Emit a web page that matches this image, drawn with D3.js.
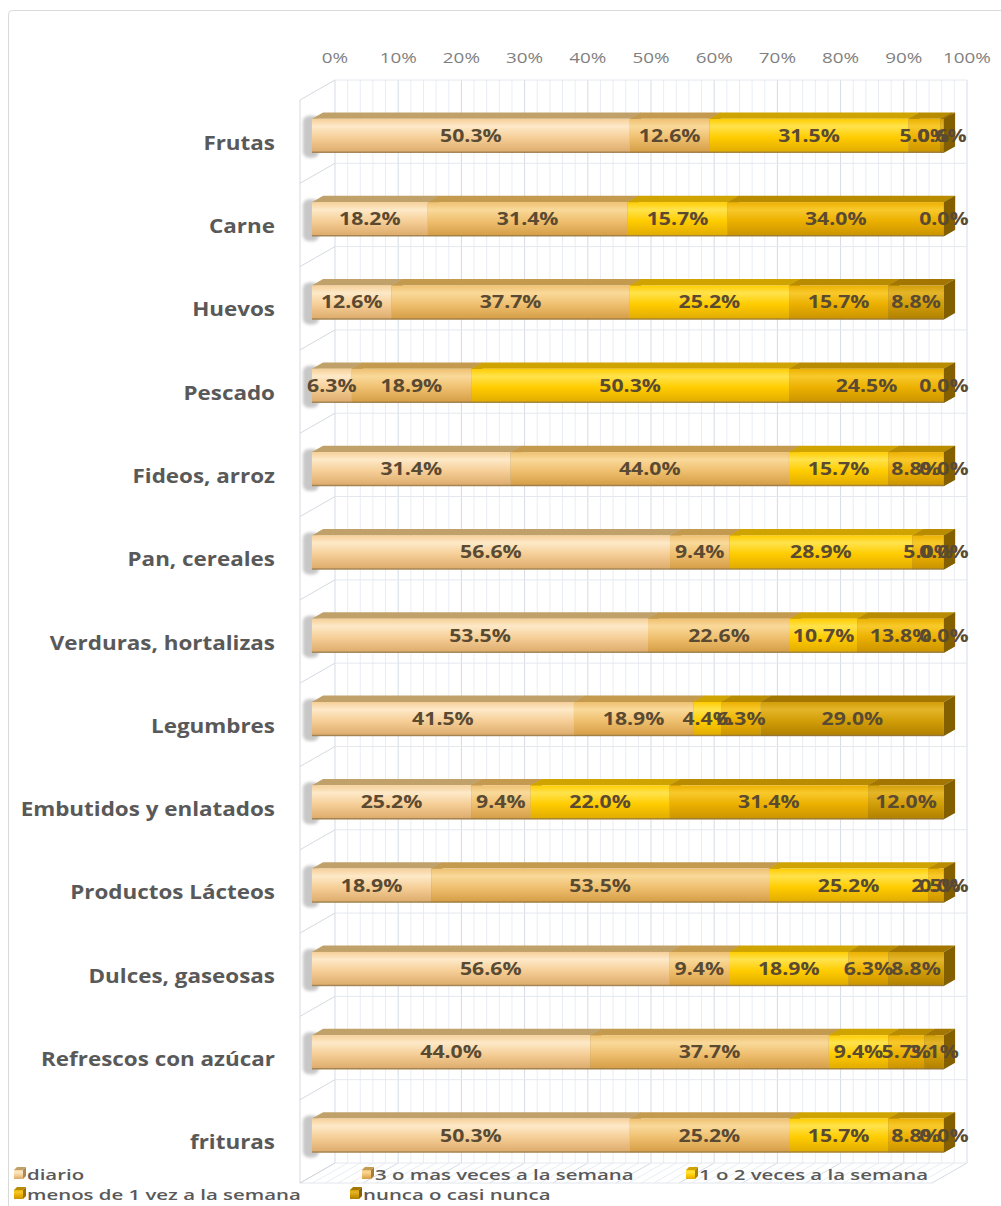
<!DOCTYPE html>
<html>
<head>
<meta charset="utf-8">
<script src="https://cdn.jsdelivr.net/npm/d3@7"></script>
<style>
  body { margin: 0; background: #fff; }
  svg { display: block; }
</style>
</head>
<body>
<svg id="chart" width="1001" height="1206"></svg>
<script>
// Food-frequency survey: share of respondents per consumption frequency
const categories = [
  "Frutas", "Carne", "Huevos", "Pescado", "Fideos, arroz", "Pan, cereales",
  "Verduras, hortalizas", "Legumbres", "Embutidos y enlatados",
  "Productos Lácteos", "Dulces, gaseosas", "Refrescos con azúcar", "frituras"
];
const seriesNames = [
  "diario", "3 o mas veces a la semana", "1 o 2 veces a la semana",
  "menos de 1 vez a la semana", "nunca o casi nunca"
];
const diario     = [50.3, 18.2, 12.6,  6.3, 31.4, 56.6, 53.5, 41.5, 25.2, 18.9, 56.6, 44.0, 50.3];
const tresOMas   = [12.6, 31.4, 37.7, 18.9, 44.0,  9.4, 22.6, 18.9,  9.4, 53.5,  9.4, 37.7, 25.2];
const unoODos    = [31.5, 15.7, 25.2, 50.3, 15.7, 28.9, 10.7,  4.4, 22.0, 25.2, 18.9,  9.4, 15.7];
const menosDeUna = [ 5.0, 34.0, 15.7, 24.5,  8.8,  5.0, 13.8,  6.3, 31.4,  2.5,  6.3,  5.7,  8.8];
const nunca      = [ 0.6,  0.0,  8.8,  0.0,  0.0,  0.0,  0.0, 29.0, 12.0,  0.0,  8.8,  3.1,  0.0];
const tickLabels = ["0%", "10%", "20%", "30%", "40%", "50%", "60%", "70%", "80%", "90%", "100%"];

const seriesValues = [diario, tresOMas, unoODos, menosDeUna, nunca];

// Shading per series: [light, mid, dark, top face, end face]
const palette = [
  ["#fde9c8", "#f6cf98", "#dcaa6a", "#c1a16a", "#a88a58"],
  ["#f9d99a", "#efc070", "#d49c44", "#c39a4e", "#a57e36"],
  ["#ffe34d", "#ffcc00", "#e0aa00", "#cfa300", "#a88400"],
  ["#f8c92c", "#ecb000", "#c99300", "#b98c00", "#977200"],
  ["#e4b52a", "#d29e08", "#b07f00", "#a27600", "#835f00"]
];

const svg = d3.select("#chart");
const defs = svg.append("defs");

palette.forEach((c, i) => {
  const g = defs.append("linearGradient")
    .attr("id", "front" + i).attr("x1", 0).attr("y1", 0).attr("x2", 0).attr("y2", 1);
  g.append("stop").attr("offset", "0%").attr("stop-color", c[1]);
  g.append("stop").attr("offset", "22%").attr("stop-color", c[0]);
  g.append("stop").attr("offset", "55%").attr("stop-color", c[1]);
  g.append("stop").attr("offset", "100%").attr("stop-color", c[2]);
});
defs.append("filter").attr("id", "soft")
  .append("feGaussianBlur").attr("stdDeviation", 1.6);

// Chart frame
svg.append("rect")
  .attr("x", 8.5).attr("y", 10.5).attr("width", 1010).attr("height", 1210)
  .attr("rx", 4).attr("fill", "#fff").attr("stroke", "#d9d9d9");

// 3D projection: value on x, category on y, depth d in [0,1] (0 = front, 1 = back)
const DX = 35, DY = -20;
const x = d3.scaleLinear().domain([0, 100]).range([300, 932]);
const y = d3.scaleBand().domain(categories).range([100, 1183]);
const px = (v, d) => x(v) + d * DX;
const py = (yy, d) => yy + d * DY;

const wall = svg.append("g").attr("fill", "none");
const yTop = y.range()[0], yBot = y.range()[1];

// Back wall gridlines (minor every 2 %, major every 10 %)
const minor = d3.range(0, 101, 2).filter(v => v % 10 !== 0);
const major = d3.range(0, 101, 10);
wall.selectAll("line.minor").data(minor).join("line")
  .attr("x1", v => px(v, 1)).attr("x2", v => px(v, 1))
  .attr("y1", py(yTop, 1)).attr("y2", py(yBot, 1))
  .attr("stroke", "#e9edf3").attr("stroke-width", 1);
wall.selectAll("line.major").data(major).join("line")
  .attr("x1", v => px(v, 1)).attr("x2", v => px(v, 1))
  .attr("y1", py(yTop, 1)).attr("y2", py(yBot, 1))
  .attr("stroke", "#d5dbe5").attr("stroke-width", 1);

// Floor: gridlines running from back to front
wall.selectAll("line.floor").data(d3.range(0, 101, 2)).join("line")
  .attr("x1", v => px(v, 1)).attr("y1", py(yBot, 1))
  .attr("x2", v => px(v, 0)).attr("y2", py(yBot, 0))
  .attr("stroke", v => v % 10 === 0 ? "#d5dbe5" : "#e9edf3");
wall.append("line")
  .attr("x1", px(0, 0)).attr("y1", py(yBot, 0))
  .attr("x2", px(100, 0)).attr("y2", py(yBot, 0))
  .attr("stroke", "#e2e6ec");

// Category boundaries: back wall horizontals and side-wall diagonals
const bounds = categories.map(c => y(c)).concat([yBot]);
wall.selectAll("line.hb").data(bounds).join("line")
  .attr("x1", px(0, 1)).attr("x2", px(100, 1))
  .attr("y1", b => py(b, 1)).attr("y2", b => py(b, 1))
  .attr("stroke", "#e4e8ee");
wall.selectAll("line.side").data(bounds).join("line")
  .attr("x1", px(0, 0)).attr("y1", b => py(b, 0))
  .attr("x2", px(0, 1)).attr("y2", b => py(b, 1))
  .attr("stroke", "#d5d9df");
wall.append("line")
  .attr("x1", px(0, 0)).attr("x2", px(0, 0))
  .attr("y1", yTop).attr("y2", yBot)
  .attr("stroke", "#d5d9df");

// Value axis labels along the top of the back wall
svg.append("g").selectAll("text").data(major).join("text")
  .attr("transform", v => `translate(${px(v, 1)},${py(yTop, 1) - 17}) scale(1.3,1)`)
  .attr("text-anchor", "middle")
  .attr("font-family", "'Open Sans', sans-serif").attr("font-size", 14.5)
  .attr("fill", "#7f7f7f")
  .text((v, i) => tickLabels[i]);

// Category labels
svg.append("g").selectAll("text").data(categories).join("text")
  .attr("transform", c => `translate(275,${y(c) + y.bandwidth() / 2 + 8}) scale(1.18,1)`)
  .attr("text-anchor", "end")
  .attr("font-family", "'Open Sans', sans-serif").attr("font-size", 19)
  .attr("font-weight", 700).attr("fill", "#595959")
  .text(c => c);

// Stacked bars (each row normalised to its total, as in a 100 % stacked chart)
const d0 = 0.34, d1 = 0.66, barH = 34;
const bars = svg.append("g");
categories.forEach((cat, r) => {
  const vals = seriesValues.map(s => s[r]);
  const total = d3.sum(vals);
  let acc = 0;
  const segs = vals.map((v, i) => {
    const a = acc / total * 100;
    acc += v;
    return { i, v, a, b: acc / total * 100 };
  });
  const cy = py(y(cat) + y.bandwidth() / 2, d0) + 1;
  const top = cy - barH / 2, bot = cy + barH / 2;
  const g = bars.append("g");

  // soft shadow at the left end of the bar
  g.append("rect")
    .attr("x", px(0, d0) - 9).attr("y", top - 3)
    .attr("width", 16).attr("height", barH + 8).attr("rx", 6)
    .attr("fill", "#9a9a9a").attr("opacity", 0.55).attr("filter", "url(#soft)");

  segs.forEach(s => {
    const c = palette[s.i];
    // top face
    g.append("path")
      .attr("d", d3.line()([
        [px(s.a, d0), top], [px(s.b, d0), top],
        [px(s.b, d1), py(top, d1 - d0)], [px(s.a, d1), py(top, d1 - d0)]
      ]) + "Z")
      .attr("fill", c[3]);
    // front face
    g.append("rect")
      .attr("x", px(s.a, d0)).attr("y", top)
      .attr("width", Math.max(0, px(s.b, d0) - px(s.a, d0))).attr("height", barH)
      .attr("fill", `url(#front${s.i})`);
    // right end face
    g.append("path")
      .attr("d", d3.line()([
        [px(s.b, d0), top], [px(s.b, d1), py(top, d1 - d0)],
        [px(s.b, d1), py(bot, d1 - d0)], [px(s.b, d0), bot]
      ]) + "Z")
      .attr("fill", c[4]);
  });
  // lower edge line
  g.append("line")
    .attr("x1", px(0, d0)).attr("x2", px(100, d0))
    .attr("y1", bot - 0.5).attr("y2", bot - 0.5)
    .attr("stroke", "#8c7448").attr("stroke-width", 1.5).attr("opacity", 0.7);

  // value labels centred on each segment
  g.selectAll("text").data(segs).join("text")
    .attr("transform", s => `translate(${px((s.a + s.b) / 2, d0)},${cy + 6}) scale(1.25,1)`)
    .attr("text-anchor", "middle")
    .attr("font-family", "'Open Sans', sans-serif").attr("font-size", 17)
    .attr("font-weight", 700).attr("fill", "#5a4a32")
    .text(s => s.v.toFixed(1) + "%");
});

// Legend (two rows, Excel-style)
const legendPos = [[14, 1175], [362, 1175], [686, 1175], [14, 1195], [350, 1195]];
const lg = svg.append("g");
seriesNames.forEach((name, i) => {
  const [lx, ly] = legendPos[i];
  lg.append("rect")
    .attr("x", lx).attr("y", ly - 5).attr("width", 9).attr("height", 9)
    .attr("fill", `url(#front${i})`);
  lg.append("path")
    .attr("d", `M${lx},${ly - 5}L${lx + 3},${ly - 8}L${lx + 12},${ly - 8}L${lx + 9},${ly - 5}Z`)
    .attr("fill", palette[i][3]);
  lg.append("path")
    .attr("d", `M${lx + 9},${ly - 5}L${lx + 12},${ly - 8}L${lx + 12},${ly + 1}L${lx + 9},${ly + 4}Z`)
    .attr("fill", palette[i][4]);
  lg.append("text")
    .attr("transform", `translate(${lx + 13},${ly + 5}) scale(1.36,1)`)
    .attr("font-family", "'Open Sans', sans-serif").attr("font-size", 15)
    .attr("font-weight", 600).attr("fill", "#595959")
    .text(name);
});
</script>
</body>
</html>
